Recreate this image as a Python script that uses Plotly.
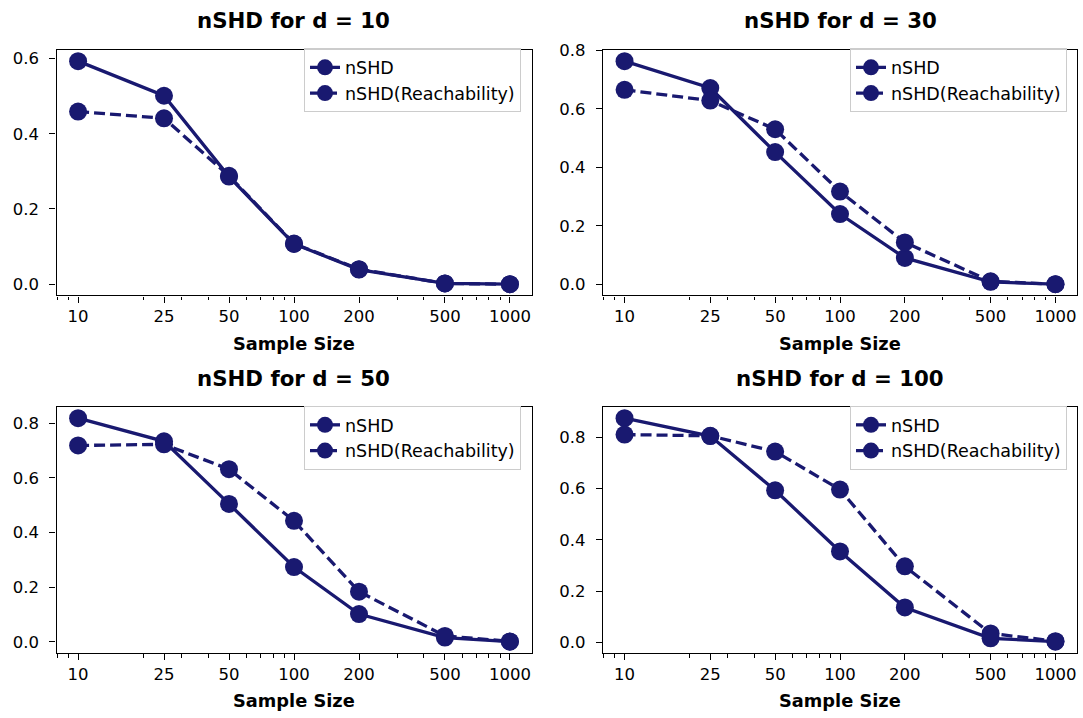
import plotly.graph_objects as go

sample_sizes = [10, 25, 50, 100, 200, 500, 1000]
tick_labels = ["10", "25", "50", "100", "200", "500", "1000"]
minor_ticks = [8, 9, 20, 30, 40, 60, 70, 80, 90, 300, 400, 600, 700, 800, 900]
dims = [10, 30, 50, 100]

nshd_d10 = [0.593, 0.501, 0.286, 0.107, 0.039, 0.002, 0.0]
reach_d10 = [0.459, 0.441, 0.288, 0.108, 0.040, 0.002, 0.0]
nshd_d30 = [0.763, 0.671, 0.452, 0.240, 0.090, 0.008, 0.0]
reach_d30 = [0.665, 0.628, 0.530, 0.317, 0.143, 0.010, 0.0]
nshd_d50 = [0.819, 0.734, 0.505, 0.274, 0.102, 0.016, 0.001]
reach_d50 = [0.719, 0.723, 0.632, 0.443, 0.184, 0.022, 0.002]
nshd_d100 = [0.874, 0.804, 0.593, 0.355, 0.137, 0.017, 0.004]
reach_d100 = [0.810, 0.805, 0.744, 0.596, 0.297, 0.036, 0.006]

series = [(nshd_d10, reach_d10), (nshd_d30, reach_d30),
          (nshd_d50, reach_d50), (nshd_d100, reach_d100)]

W, H = 1083, 718
COLOR = "#191970"
FONT = "DejaVu Sans"
TICK_SIZE = 16.5
LEGEND_SIZE = 17.5
LABEL_SIZE = 17.8
TITLE_SIZE = 21.3

col_dom = [[56.5 / W, 531.5 / W], [603 / W, 1077 / W]]
row_dom = [[1 - 290 / H, 1 - 41.5 / H], [1 - 652 / H, 1 - 403 / H]]
legend_pos = [(521, 40), (1067, 40), (521, 402), (1067, 402)]
title_y = [12, 374]
xlabel_y = [339, 700]

fig = go.Figure()
layout = dict(width=W, height=H, margin=dict(l=0, r=0, t=0, b=0),
              plot_bgcolor="white", paper_bgcolor="white",
              font=dict(family=FONT, color="black", size=TICK_SIZE),
              showlegend=True)
annotations = []

for i, (d, (ns, rc)) in enumerate(zip(dims, series)):
    r, c = divmod(i, 2)
    sfx = "" if i == 0 else str(i + 1)
    lg = "legend" if i == 0 else f"legend{i + 1}"
    fig.add_trace(go.Scatter(x=sample_sizes, y=ns, mode="lines+markers", name="nSHD",
                             line=dict(color=COLOR, width=3.3),
                             marker=dict(color=COLOR, size=18),
                             xaxis="x" + sfx, yaxis="y" + sfx, legend=lg))
    fig.add_trace(go.Scatter(x=sample_sizes, y=rc, mode="lines+markers",
                             name="nSHD(Reachability)",
                             line=dict(color=COLOR, width=3.3, dash="11px,5px"),
                             marker=dict(color=COLOR, size=18),
                             xaxis="x" + sfx, yaxis="y" + sfx, legend=lg))
    ymax = max(max(ns), max(rc))
    ymin = min(min(ns), min(rc))
    pad = 0.05 * (ymax - ymin)
    axis_common = dict(showline=True, linecolor="black", linewidth=1.4, mirror=True,
                       ticks="outside", ticklen=6, tickwidth=1.4, tickcolor="black",
                       showgrid=False, zeroline=False,
                       tickfont=dict(family=FONT, size=TICK_SIZE, color="black"))
    layout["xaxis" + sfx] = dict(axis_common, type="log", domain=col_dom[c],
                                 anchor="y" + sfx, range=[0.9, 3.1],
                                 tickmode="array", tickvals=sample_sizes,
                                 ticktext=tick_labels,
                                 minor=dict(tickmode="array", tickvals=minor_ticks,
                                            ticks="outside", ticklen=3.5, tickwidth=1.1,
                                            tickcolor="black", showgrid=False))
    layout["yaxis" + sfx] = dict(axis_common, domain=row_dom[r], anchor="x" + sfx,
                                 range=[ymin - pad, ymax + pad], dtick=0.2, tick0=0,
                                 tickformat=".1f", ticklabelstandoff=7)
    lx, ly = legend_pos[i]
    layout[lg] = dict(x=lx / W, y=1 - ly / H, xanchor="right", yanchor="top",
                      bgcolor="rgba(255,255,255,0.8)", bordercolor="#cccccc",
                      borderwidth=1, font=dict(family=FONT, size=LEGEND_SIZE, color="black"))
    xc = (col_dom[c][0] + col_dom[c][1]) / 2
    annotations.append(dict(text=f"<b>nSHD for d = {d}</b>", x=xc, y=1 - title_y[r] / H,
                            xref="paper", yref="paper", xanchor="center",
                            yanchor="middle", showarrow=False,
                            font=dict(family=FONT, size=TITLE_SIZE, color="black")))
    annotations.append(dict(text="<b>Sample Size</b>", x=xc, y=1 - xlabel_y[r] / H,
                            xref="paper", yref="paper", xanchor="center",
                            yanchor="middle", showarrow=False,
                            font=dict(family=FONT, size=LABEL_SIZE, color="black")))

layout["annotations"] = annotations
fig.update_layout(**layout)
fig.write_html("out.html")
